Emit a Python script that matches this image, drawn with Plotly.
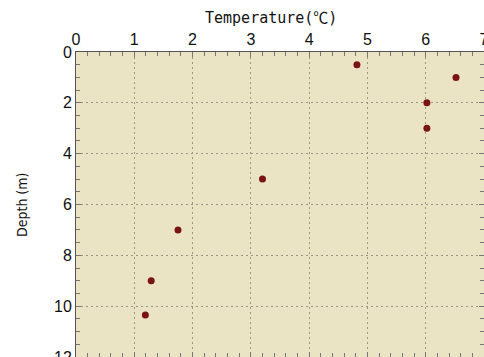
import plotly.graph_objects as go

temperature = [4.82, 6.52, 6.02, 6.02, 3.2, 1.75, 1.29, 1.19]
depth = [0.5, 1.0, 2.0, 3.0, 5.0, 7.0, 9.0, 10.35]

fig = go.Figure()
fig.add_trace(go.Scatter(
    x=temperature, y=depth, mode="markers",
    marker=dict(color="#7A1414", size=7, line=dict(width=0)),
    cliponaxis=False, showlegend=False,
))

axis_common = dict(
    showline=True, linecolor="#555555", linewidth=1, mirror="allticks",
    ticks="inside", ticklen=5, tickcolor="#777777",
    showgrid=True, gridcolor="#9a9585", griddash="2px,3px", gridwidth=1,
    zeroline=False, automargin=False, ticklabeloverflow="allow",
    tickfont=dict(family="Liberation Sans, Arial, sans-serif", size=16, color="#111111"),
)

W, H = 484, 357
L, T, R, B = 76, 52, 0, 0

fig.update_layout(
    width=W, height=H,
    margin=dict(l=L, r=R, t=T, b=B),
    paper_bgcolor="white", plot_bgcolor="#EAE3C4",
    xaxis=dict(
        range=[0, 7], dtick=1, side="top",
        minor=dict(dtick=0.2, ticks="inside", ticklen=4, tickcolor="#777777", showgrid=False),
        **axis_common,
    ),
    yaxis=dict(
        range=[12, 0], dtick=2,
        minor=dict(dtick=0.5, ticks="inside", ticklen=4, tickcolor="#777777", showgrid=False),
        **axis_common,
    ),
    annotations=[
        dict(text="Temperature(℃)", xref="paper", yref="paper",
             x=(271 - L) / (W - L - R), y=1 + (T - 18) / (H - T - B),
             xanchor="center", yanchor="middle", showarrow=False,
             font=dict(family="DejaVu Sans Mono, Noto Sans CJK JP", size=15, color="#111111")),
        dict(text="Depth (m)", xref="paper", yref="paper",
             x=-(L - 22) / (W - L - R), y=1 - (205 - T) / (H - T - B),
             xanchor="center", yanchor="middle", textangle=-90, showarrow=False,
             font=dict(family="DejaVu Sans Condensed, Noto Sans CJK JP", size=14, color="#111111")),
    ],
)

fig.write_html(
    "out.html",
    config={"displayModeBar": False},
    post_script="document.body.style.margin='0';document.body.style.overflow='hidden';",
)
